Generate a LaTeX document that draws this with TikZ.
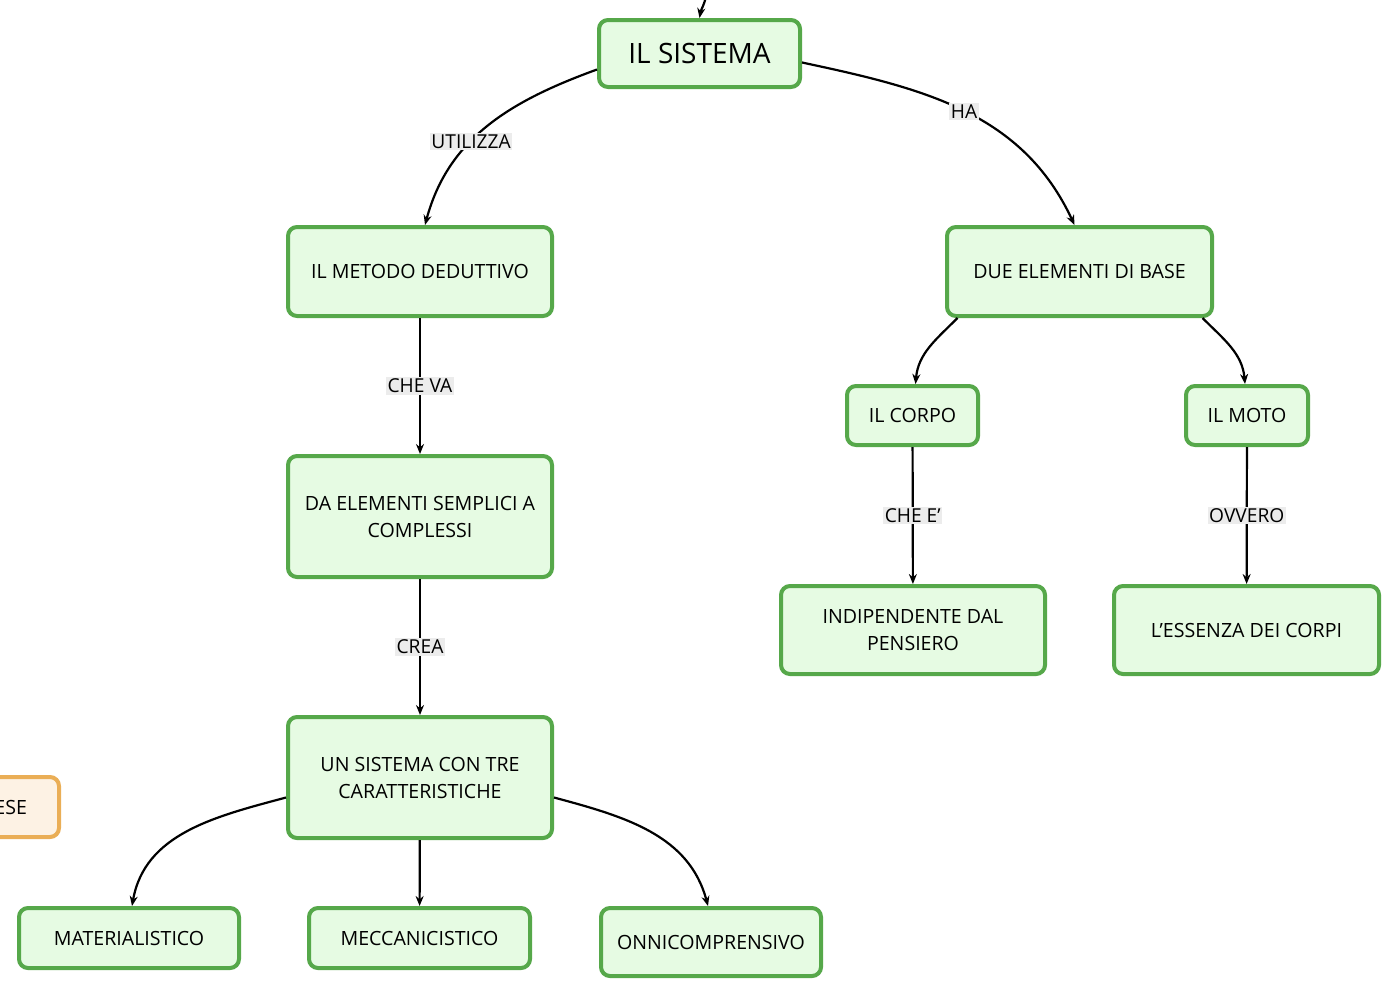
\documentclass[tikz,border=0pt]{standalone}
\usepackage{fontspec}
\setmainfont{Open Sans}
\usetikzlibrary{arrows.meta}
\definecolor{gborder}{RGB}{86,168,74}
\definecolor{gfill}{RGB}{230,251,227}
\definecolor{oborder}{RGB}{234,174,86}
\definecolor{ofill}{RGB}{253,242,228}
\definecolor{lblbg}{RGB}{236,236,236}
\tikzset{
  gbox/.style={draw=gborder, fill=gfill, line width=2pt, rounded corners=4.5pt, align=center, inner sep=0pt, font=\fontsize{9.8}{13.5}\selectfont},
  obox/.style={draw=oborder, fill=ofill, line width=2pt, rounded corners=4.5pt, inner sep=0pt, font=\fontsize{9.8}{13.5}\selectfont},
  conn/.style={line width=1.1pt, -{Stealth[length=5pt,width=4pt]}},
  lbl/.style={fill=lblbg, inner sep=0.8pt, font=\fontsize{9.6}{11}\selectfont}
}
\begin{document}
\begin{tikzpicture}[x=0.5pt,y=-0.5pt]
\useasboundingbox (0,0) rectangle (1400,997);
\clip (0,0) rectangle (1400,997);
% nodes
\node[gbox, minimum width=100.5pt, minimum height=33.5pt, font=\fontsize{14}{16}\selectfont] (sis) at (699.5,53.5) {IL SISTEMA};
\node[gbox, minimum width=132pt, minimum height=44.5pt] (met) at (420,271.5) {IL METODO DEDUTTIVO};
\node[gbox, minimum width=132.5pt, minimum height=44.5pt] (due) at (1079.5,271.5) {DUE ELEMENTI DI BASE};
\node[gbox, minimum width=65.5pt, minimum height=29.5pt] (corpo) at (912.5,415.5) {IL CORPO};
\node[gbox, minimum width=61pt, minimum height=29.5pt] (moto) at (1247,415.5) {IL MOTO};
\node[gbox, minimum width=132pt, minimum height=60.5pt] (da) at (420,516.5) {DA ELEMENTI SEMPLICI A\\COMPLESSI};
\node[gbox, minimum width=132pt, minimum height=44pt] (ind) at (913,630) {INDIPENDENTE DAL\\PENSIERO};
\node[gbox, minimum width=132.5pt, minimum height=44pt] (ess) at (1246.5,630) {L'ESSENZA DEI CORPI};
\node[gbox, minimum width=132pt, minimum height=60.5pt] (un) at (420,777.5) {UN SISTEMA CON TRE\\CARATTERISTICHE};
\node[gbox, minimum width=110pt, minimum height=30pt] (mat) at (129,938) {MATERIALISTICO};
\node[gbox, minimum width=110.5pt, minimum height=30pt] (mec) at (419.5,938) {MECCANICISTICO};
\node[gbox, minimum width=110pt, minimum height=34pt] (onn) at (711,942) {ONNICOMPRENSIVO};
\node[obox, anchor=east, minimum width=100pt, minimum height=30pt, text width=68pt, align=right] (ori) at (61,807) {ESE};
% free end
\coordinate (top) at (706,-4);
% connectors
\draw[conn] (top) to[out=-100, in=80] (sis.north);
\draw[conn] ([yshift=-8pt]sis.west) to[out=200, in=75] node[lbl, pos=0.6] {UTILIZZA} ([xshift=2.5pt]met.north);
\draw[conn] ([yshift=-4.5pt]sis.east) to[out=-12, in=115] node[lbl, pos=0.5] {HA} ([xshift=-2.5pt]due.north);
\draw[conn] ([xshift=-61pt]due.south) to[out=225, in=85] ([xshift=1.5pt]corpo.north);
\draw[conn] ([xshift=61.5pt]due.south) to[out=-45, in=95] ([xshift=-1pt]moto.north);
\draw[conn] (met) -- node[lbl] {CHE VA} (da);
\draw[conn] (da) -- node[lbl] {CREA} (un);
\draw[conn] (corpo) -- node[lbl] {CHE E'} (ind);
\draw[conn] (moto) -- node[lbl] {OVVERO} (ess);
\draw[conn] ([yshift=-10pt]un.west) to[out=195, in=80] ([xshift=1.5pt]mat.north);
\draw[conn] (un) -- (mec);
\draw[conn] ([yshift=-10pt]un.east) to[out=-15, in=105] ([xshift=-1.5pt]onn.north);
\end{tikzpicture}
\end{document}
